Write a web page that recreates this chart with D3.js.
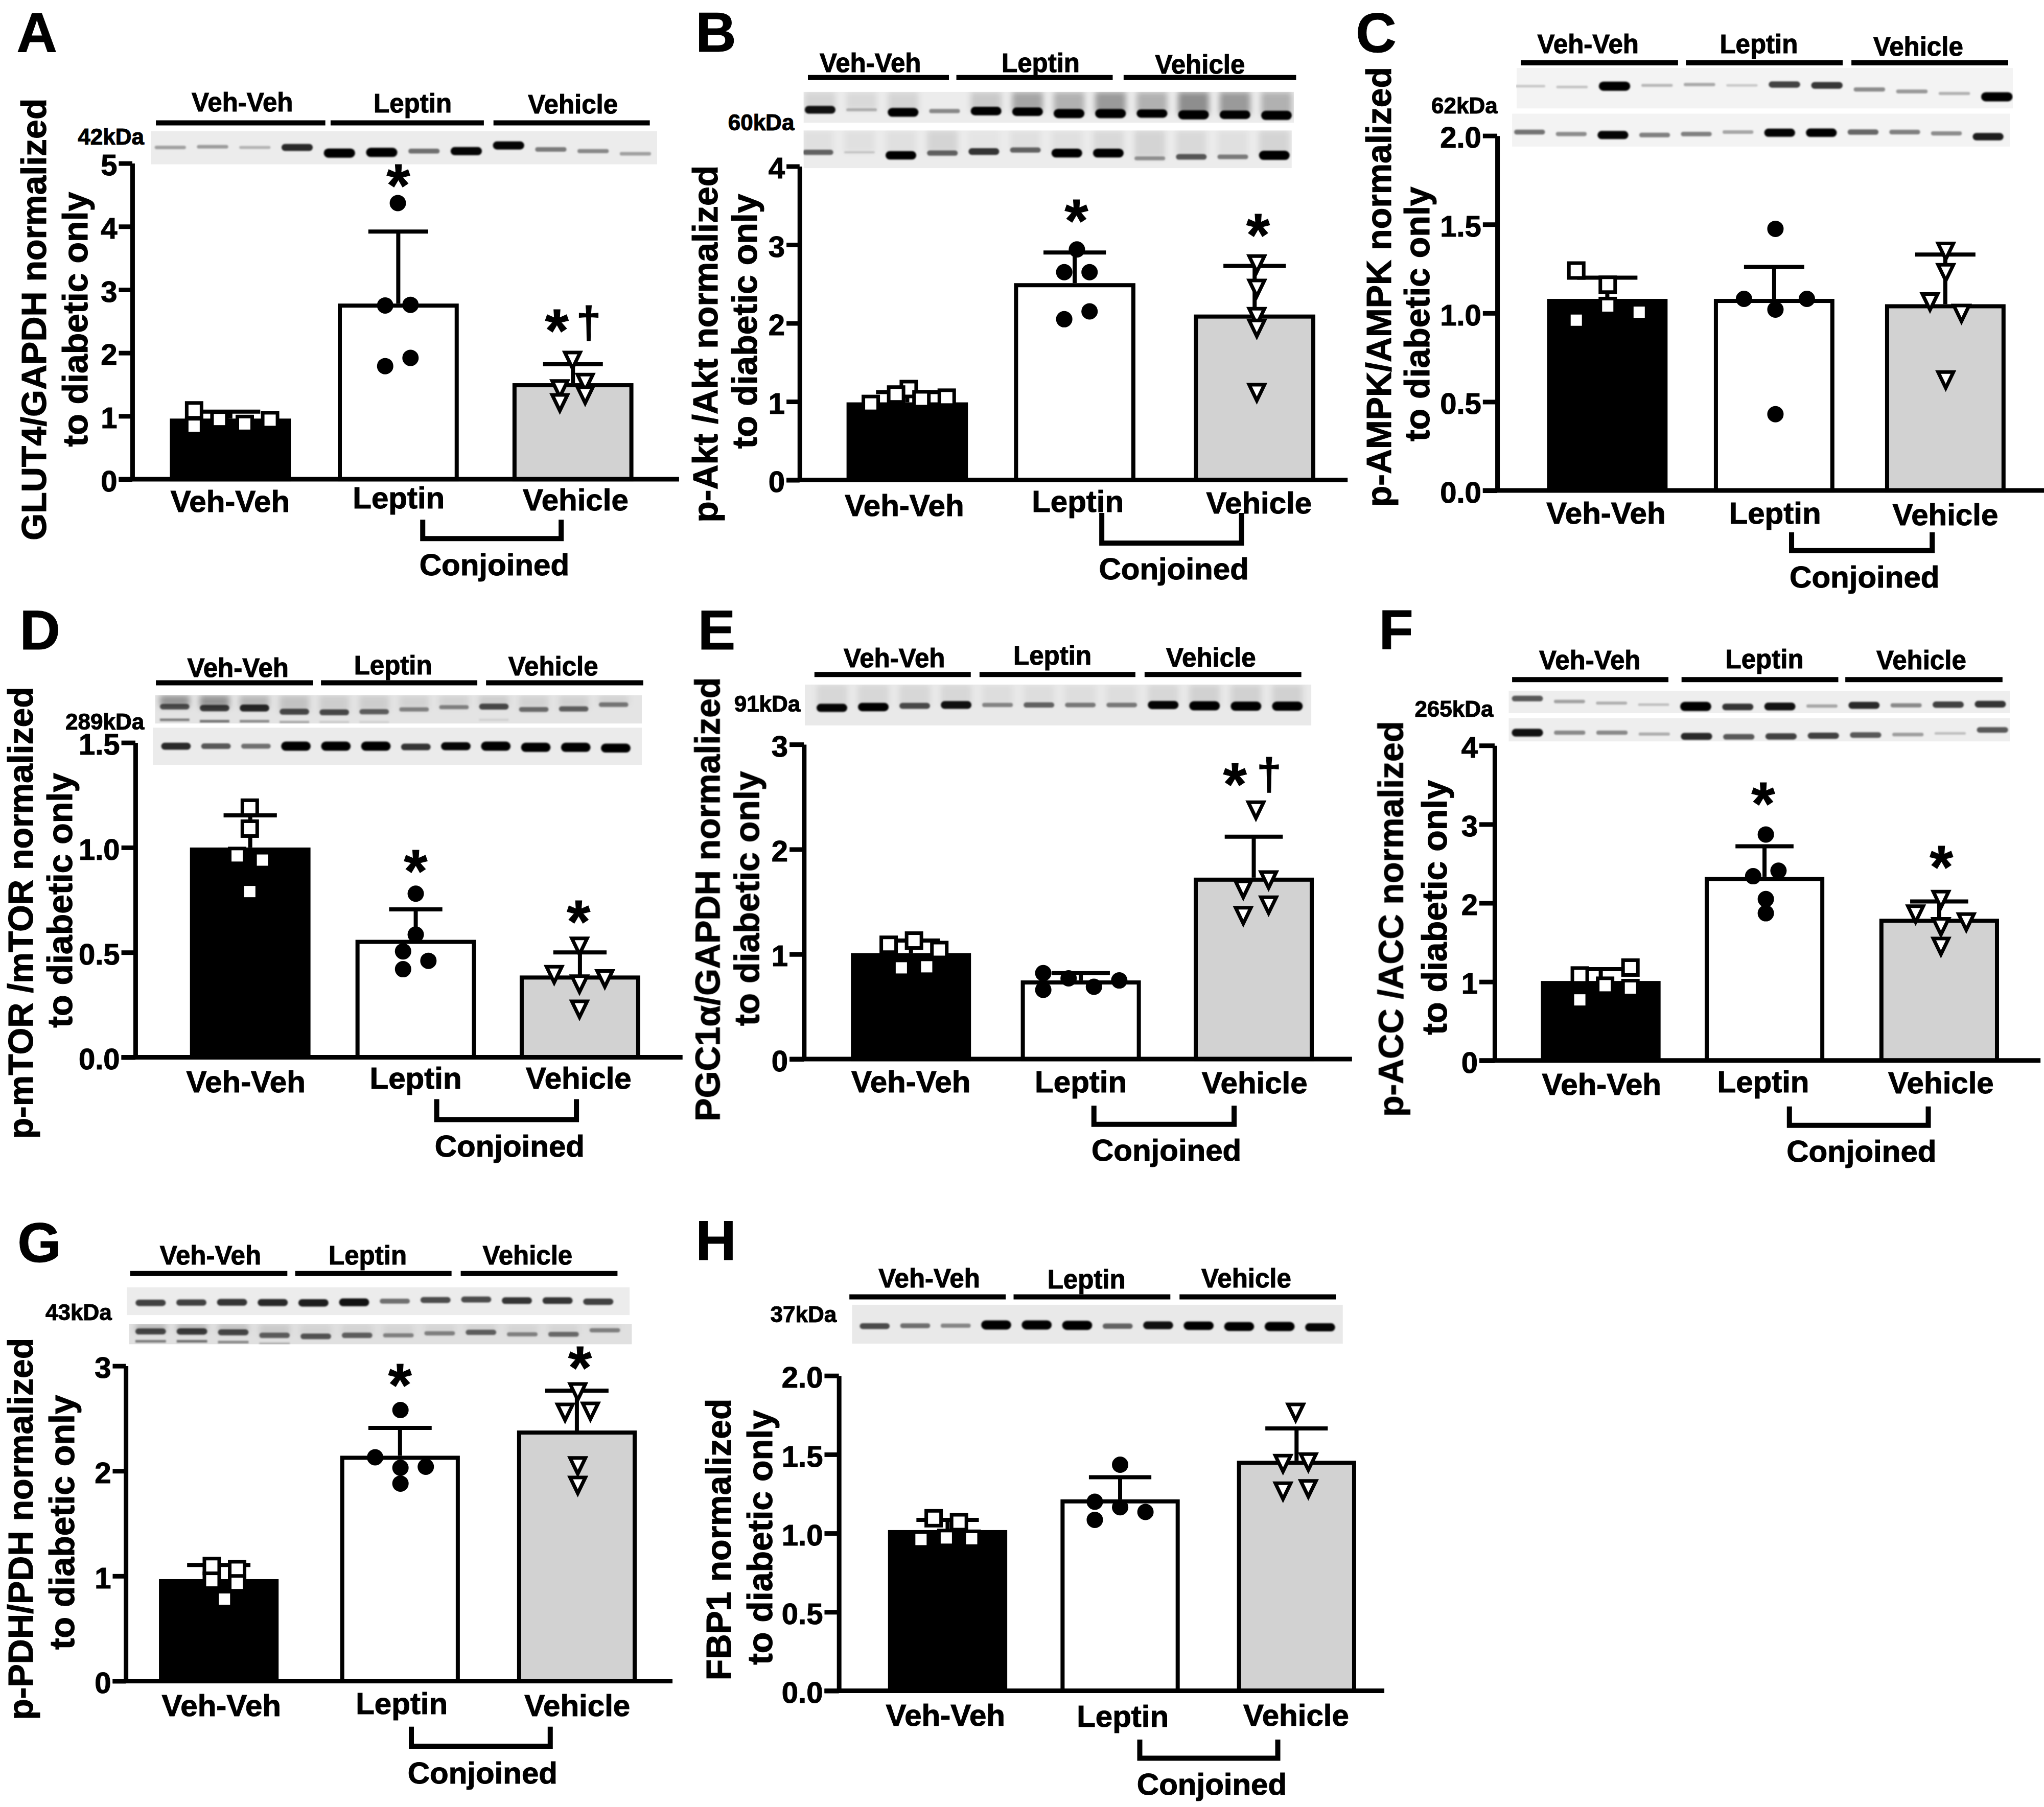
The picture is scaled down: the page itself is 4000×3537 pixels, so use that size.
<!DOCTYPE html>
<html><head><meta charset="utf-8">
<script src="https://cdn.jsdelivr.net/npm/d3@7/dist/d3.min.js"></script>
<style>html,body{margin:0;padding:0;background:#fff}svg{display:block}text{font-family:"Liberation Sans",Arial,sans-serif;font-weight:bold;fill:#000;stroke:#000;stroke-width:1.1px}</style>
</head><body><svg id="fig" width="4000" height="3537"></svg>
<script>
// ---------- shared labels ----------
const categories = ["Veh-Veh", "Leptin", "Vehicle"];
const barFills = ["#000000", "#ffffff", "#d2d2d2"];
const bracketLabel = "Conjoined";

// ---------- panel A ----------
const titleA = ["GLUT4/GAPDH normalized", "to diabetic only"];
const ticksA = [0, 1, 2, 3, 4, 5]; const tickTextA = ["0", "1", "2", "3", "4", "5"];
const meansA = [0.96, 2.78, 1.52];
const errTopA = [1.07, 3.92, 1.82];
const pointsA = [[1.09, 0.84, 0.945, 0.875, 0.935], [4.37, 2.75, 2.76, 1.92, 1.79], [1.90, 1.55, 1.45, 1.35, 1.23]];
const slotsA = [[-3, -3, -1, 1, 3], [0, -1, 1, 1, -1], [0, 1, -1, 1, -1]];
const marksA = [[], ["*"], ["*", "†"]];
const kdaA = "42kDa";
const lanesA = [[0.2, 0.22, 0.12, 0.7, 1, 1, 0.4, 0.85, 0.85, 0.35, 0.3, 0.2]];
const bandPosA = [[0.49, 0.47, 0.49, 0.49, 0.66, 0.64, 0.6, 0.6, 0.43, 0.55, 0.6, 0.68]];
const hazeA = [null];

// ---------- panel B ----------
const titleB = ["p-Akt /Akt normalized", "to diabetic only"];
const ticksB = [0, 1, 2, 3, 4]; const tickTextB = ["0", "1", "2", "3", "4"];
const meansB = [0.99, 2.51, 2.11];
const errTopB = [1.12, 2.90, 2.73];
const pointsB = [[1.16, 0.97, 1.09, 1.03, 1.05], [2.94, 2.65, 2.65, 2.15, 2.05], [2.77, 2.46, 2.10, 1.95, 1.13]];
const slotsB = [[0, -3, -1, 1, 3], [0, -1, 1, 1, -1], [0, 0, 0, 0, 0]];
const marksB = [[], ["*"], ["*"]];
const kdaB = "60kDa";
const lanesB = [[0.8, 0.12, 0.95, 0.3, 0.9, 0.9, 1, 1, 0.9, 1, 0.9, 1], [0.45, 0.03, 0.9, 0.45, 0.65, 0.45, 0.95, 0.95, 0.25, 0.5, 0.35, 1]];
const bandPosB = [[0.58, 0.58, 0.66, 0.62, 0.62, 0.64, 0.7, 0.7, 0.7, 0.74, 0.74, 0.76], [0.58, 0.58, 0.66, 0.6, 0.56, 0.52, 0.6, 0.6, 0.74, 0.7, 0.7, 0.66]];
const hazeB = [[0.1, 0.08, 0.1, 0, 0.15, 0.3, 0.25, 0.35, 0.25, 0.4, 0.35, 0.25], [0.05, 0.05, 0.05, 0.1, 0.03, 0.05, 0.05, 0.08, 0.1, 0.08, 0.05, 0.1]];

// ---------- panel C ----------
const titleC = ["p-AMPK/AMPK normalized", "to diabetic only"];
const ticksC = [0, 0.5, 1, 1.5, 2]; const tickTextC = ["0.0", "0.5", "1.0", "1.5", "2.0"];
const meansC = [1.08, 1.08, 1.05];
const errTopC = [1.20, 1.26, 1.33];
const pointsC = [[1.24, 1.16, 1.04, 1.005, 0.96], [1.475, 1.08, 1.08, 1.02, 0.43], [1.355, 1.235, 1.07, 1.005, 0.63]];
const slotsC = [[-2, 0, 0, 2, -2], [0, -2, 2, 0, 0], [0, 0, -1, 1, 0]];
const marksC = [[], [], []];
const kdaC = "62kDa";
const lanesC = [[0.06, 0.08, 1, 0.12, 0.18, 0.06, 0.6, 0.65, 0.3, 0.25, 0.15, 1], [0.4, 0.3, 0.85, 0.35, 0.35, 0.2, 0.85, 0.9, 0.45, 0.35, 0.3, 0.75]];
const bandPosC = [[0.45, 0.47, 0.45, 0.43, 0.41, 0.43, 0.41, 0.43, 0.53, 0.58, 0.63, 0.71], [0.56, 0.62, 0.65, 0.65, 0.62, 0.56, 0.58, 0.58, 0.56, 0.56, 0.6, 0.7]];
const hazeC = [null, null];

// ---------- panel D ----------
const titleD = ["p-mTOR /mTOR normalized", "to diabetic only"];
const ticksD = [0, 0.5, 1, 1.5]; const tickTextD = ["0.0", "0.5", "1.0", "1.5"];
const meansD = [1.0, 0.56, 0.39];
const errTopD = [1.153, 0.705, 0.50];
const pointsD = [[1.19, 1.09, 0.96, 0.94, 0.79], [0.78, 0.585, 0.505, 0.46, 0.42], [0.535, 0.40, 0.38, 0.355, 0.235]];
const slotsD = [[0, 0, -1, 1, 0], [0, 0, -1, 1, -1], [0, -2, 2, 0, 0]];
const marksD = [[], ["*"], ["*"]];
const kdaD = "289kDa";
const lanesD = [[0.5, 0.6, 0.7, 0.55, 0.55, 0.45, 0.3, 0.3, 0.55, 0.4, 0.45, 0.35], [0.7, 0.5, 0.4, 1, 1, 1, 0.65, 0.85, 1, 1, 1, 0.95]];
const bandPosD = [[0.4, 0.45, 0.45, 0.58, 0.6, 0.58, 0.5, 0.42, 0.4, 0.5, 0.48, 0.33], [0.5, 0.5, 0.5, 0.5, 0.5, 0.5, 0.52, 0.5, 0.5, 0.53, 0.53, 0.55]];
const hazeD = [[0.35, 0.35, 0.2, 0.15, 0.1, 0.1, 0.08, 0.08, 0.1, 0.08, 0.08, 0.08], null];
const secondD = [[0.45, 0.5, 0.4, 0.25, 0.1, 0.08, 0, 0, 0.08, 0, 0, 0], null];

// ---------- panel E ----------
const titleE = ["PGC1α/GAPDH normalized", "to diabetic only"];
const ticksE = [0, 1, 2, 3]; const tickTextE = ["0", "1", "2", "3"];
const meansE = [1.01, 0.75, 1.73];
const errTopE = [1.13, 0.82, 2.12];
const pointsE = [[1.13, 1.09, 1.04, 0.87, 0.88], [0.82, 0.77, 0.75, 0.69, 0.66], [2.385, 1.72, 1.63, 1.48, 1.38]];
const slotsE = [[0, -2, 2, -1, 1], [-3, -1, 3, 1, -3], [0, 1, -1, 1, -1]];
const marksE = [[], [], ["*", "†"]];
const kdaE = "91kDa";
const lanesE = [[0.85, 0.9, 0.55, 0.8, 0.3, 0.45, 0.35, 0.35, 0.85, 1, 1, 1]];
const bandPosE = [[0.57, 0.55, 0.52, 0.5, 0.5, 0.5, 0.5, 0.5, 0.5, 0.52, 0.53, 0.53]];
const hazeE = [[0.08, 0.08, 0.08, 0.08, 0.05, 0.05, 0.05, 0.05, 0.08, 0.1, 0.1, 0.1]];

// ---------- panel F ----------
const titleF = ["p-ACC /ACC normalized", "to diabetic only"];
const ticksF = [0, 1, 2, 3, 4]; const tickTextF = ["0", "1", "2", "3", "4"];
const meansF = [1.01, 2.33, 1.80];
const errTopF = [1.16, 2.72, 2.02];
const pointsF = [[1.18, 1.08, 0.95, 0.92, 0.77], [2.87, 2.41, 2.34, 2.05, 1.87], [2.06, 1.875, 1.775, 1.715, 1.465]];
const slotsF = [[2, -2, 0, 2, -2], [0, 1, -1, 0, 0], [0, -2, 2, 0, 0]];
const marksF = [[], ["*"], ["*"]];
const kdaF = "265kDa";
const lanesF = [[0.5, 0.2, 0.14, 0.08, 1, 0.65, 0.8, 0.18, 0.7, 0.3, 0.6, 0.65], [0.8, 0.3, 0.3, 0.15, 0.7, 0.5, 0.6, 0.6, 0.5, 0.22, 0.08, 0.5]];
const bandPosF = [[0.35, 0.48, 0.55, 0.62, 0.7, 0.72, 0.7, 0.68, 0.65, 0.65, 0.62, 0.6], [0.62, 0.62, 0.62, 0.68, 0.78, 0.8, 0.78, 0.75, 0.72, 0.7, 0.65, 0.5]];
const hazeF = [null, null];

// ---------- panel G ----------
const titleG = ["p-PDH/PDH normalized", "to diabetic only"];
const ticksG = [0, 1, 2, 3]; const tickTextG = ["0", "1", "2", "3"];
const meansG = [0.97, 2.145, 2.385];
const errTopG = [1.105, 2.41, 2.765];
const pointsG = [[1.095, 1.065, 0.955, 0.93, 0.78], [2.58, 2.13, 2.04, 2.03, 1.88], [2.765, 2.57, 2.58, 2.06, 1.875]];
const slotsG = [[-1, 1, -1, 1, 0], [0, -2, 2, 0, 0], [0, -1, 1, 0, 0]];
const marksG = [[], ["*"], ["*"]];
const kdaG = "43kDa";
const lanesG = [[0.6, 0.6, 0.65, 0.7, 0.75, 0.8, 0.4, 0.55, 0.55, 0.65, 0.65, 0.6], [0.55, 0.6, 0.55, 0.45, 0.5, 0.45, 0.3, 0.3, 0.45, 0.3, 0.4, 0.3]];
const bandPosG = [[0.56, 0.55, 0.54, 0.55, 0.56, 0.54, 0.5, 0.46, 0.44, 0.48, 0.48, 0.52], [0.36, 0.36, 0.4, 0.55, 0.6, 0.55, 0.55, 0.45, 0.4, 0.5, 0.5, 0.3]];
const hazeG = [null, [0.2, 0.2, 0.15, 0.1, 0.06, 0.06, 0.05, 0.05, 0.06, 0.05, 0.05, 0.05]];
const secondG = [null, [0.45, 0.5, 0.4, 0.2, 0, 0, 0, 0, 0, 0, 0, 0]];

// ---------- panel H ----------
const titleH = ["FBP1 normalized", "to diabetic only"];
const ticksH = [0, 0.5, 1, 1.5, 2]; const tickTextH = ["0.0", "0.5", "1.0", "1.5", "2.0"];
const meansH = [1.02, 1.215, 1.46];
const errTopH = [1.085, 1.355, 1.665];
const pointsH = [[1.095, 1.07, 0.96, 0.97, 0.965], [1.435, 1.20, 1.165, 1.135, 1.085], [1.775, 1.45, 1.46, 1.275, 1.29]];
const slotsH = [[-1, 1, -2, 0, 2], [0, -2, 0, 2, -2], [0, -1, 1, -1, 1]];
const marksH = [[], [], []];
const kdaH = "37kDa";
const lanesH = [[0.55, 0.4, 0.3, 1, 1, 1, 0.45, 0.8, 0.9, 0.95, 1, 0.85]];
const bandPosH = [[0.55, 0.54, 0.54, 0.52, 0.52, 0.53, 0.55, 0.53, 0.54, 0.56, 0.56, 0.58]];
const hazeH = [null];

// ---------- layout (measured in the local crop frame, converted by X/Y below) ----------
const layouts = [
 {id:"A", crop:[0,0,1160], letter:[38,137], ax:303, y0:1268, yTop:432, xEnd:1555, tickL:272, centers:[527.5,912,1312], swarm:[531.5,911,1311], step:29, bw:277, cap:137,
  cat:[[527,1355],[913,1345],[1318,1350]], br:[968,1285,1375,1425], conj:[1132,1522], t1:[105,845], t2:[200,845],
  blotCats:[[555,295],[945,297],[1312,300]], blotBars:[[357,745],[757,1108],[1130,1488]], barY:325, kda:[254,382],
  strips:[[345,1505,347,435,390,1455,"#ececec"]], marks:[[], [[912,466]], [[1275,850],[1348,862]]],
  d:{title:titleA,ticks:ticksA,tt:tickTextA,m:meansA,e:errTopA,p:pointsA,s:slotsA,mk:marksA,k:kdaA,l:lanesA,b:bandPosA,h:hazeA}},
 {id:"B", crop:[1340,0,1160], letter:[25,136], ax:263, y0:1270, yTop:440, xEnd:1518, tickL:233, centers:[509.5,893,1305], swarm:[513,898,1310], step:29, bw:278, cap:143,
  cat:[[503,1365],[900,1355],[1315,1358]], br:[955,1275,1357,1437], conj:[1120,1533], t1:[75,910], t2:[165,850],
  blotCats:[[425,190],[815,190],[1180,195]], blotBars:[[282,605],[622,980],[1005,1400]], barY:205, kda:[175,345],
  strips:[[272,1395,243,325,310,1355,"#ececec"],[272,1390,345,445,305,1350,"#ececec"]], marks:[[], [[897,560]], [[1313,598]]],
  d:{title:titleB,ticks:ticksB,tt:tickTextB,m:meansB,e:errTopB,p:pointsB,s:slotsB,mk:marksB,k:kdaB,l:lanesB,b:bandPosB,h:hazeB}},
 {id:"C", crop:[2660,0,1190], letter:[-8,134], ax:316, y0:1265, yTop:350, xEnd:1600, tickL:283, centers:[568,950,1342], swarm:[569,953,1343], step:36, bw:276, cap:138,
  cat:[[565,1350],[952,1350],[1342,1355]], br:[990,1312,1373,1420], conj:[1157,1515], t1:[72,740], t2:[160,810],
  blotCats:[[524,137],[915,137],[1280,143]], blotBars:[[370,730],[748,1107],[1127,1486]], barY:162, kda:[241,293],
  strips:[[360,1497,175,280,390,1460,"#f3f3f3"],[350,1490,293,378,390,1440,"#f3f3f3"]], marks:[[],[],[]],
  d:{title:titleC,ticks:ticksC,tt:tickTextC,m:meansC,e:errTopC,p:pointsC,s:slotsC,mk:marksC,k:kdaC,l:lanesC,b:bandPosC,h:hazeC}},
 {id:"D", crop:[0,1180,1100], letter:[45,130], ax:310, y0:1268, yTop:390, xEnd:1563, tickL:278, centers:[573,952,1328], swarm:[572,952,1327], step:29, bw:276, cap:122,
  cat:[[563,1365],[952,1355],[1325,1355]], br:[1000,1320,1385,1442], conj:[1167,1545], t1:[75,865], t2:[165,830],
  blotCats:[[545,207],[900,200],[1267,203]], blotBars:[[357,717],[735,1093],[1113,1473]], barY:223, kda:[240,353],
  strips:[[355,1470,258,337,400,1405,"#e4e4e4"],[350,1470,348,452,403,1410,"#ebebeb"]], marks:[[], [[952,722]], [[1325,864]]],
  d:{title:titleD,ticks:ticksD,tt:tickTextD,m:meansD,e:errTopD,p:pointsD,s:slotsD,mk:marksD,k:kdaD,l:lanesD,b:bandPosD,h:hazeD,sec:secondD}},
 {id:"E", crop:[1340,1180,1100], letter:[30,130], ax:273, y0:1273, yTop:395, xEnd:1528, tickL:240, centers:[518,907,1303], swarm:[525,908,1308], step:29, bw:275, cap:133,
  cat:[[518,1365],[907,1365],[1305,1368]], br:[937,1258,1403,1455], conj:[1103,1557], t1:[80,827], t2:[170,825],
  blotCats:[[480,180],[842,173],[1205,178]], blotBars:[[297,655],[675,1032],[1053,1412]], barY:200, kda:[189,303],
  strips:[[275,1435,228,342,337,1380,"#e9e9e9"]], marks:[[], [], [[1260,480],[1338,488]]],
  d:{title:titleE,ticks:ticksE,tt:tickTextE,m:meansE,e:errTopE,p:pointsE,s:slotsE,mk:marksE,k:kdaE,l:lanesE,b:bandPosE,h:hazeE}},
 {id:"F", crop:[2660,1180,1100], letter:[45,130], ax:310, y0:1277, yTop:398, xEnd:1560, tickL:275, centers:[553,928,1328], swarm:[563,931,1332], step:29, bw:274, cap:133,
  cat:[[555,1372],[925,1365],[1332,1368]], br:[985,1303,1405,1458], conj:[1150,1560], t1:[100,882], t2:[200,850],
  blotCats:[[528,185],[928,183],[1287,185]], blotBars:[[350,708],[738,1097],[1113,1473]], barY:214, kda:[217,318],
  strips:[[342,1490,245,308,385,1445,"#eeeeee"],[342,1490,322,387,385,1450,"#eeeeee"]], marks:[[], [[925,534]], [[1333,711]]],
  d:{title:titleF,ticks:ticksF,tt:tickTextF,m:meansF,e:errTopF,p:pointsF,s:slotsF,mk:marksF,k:kdaF,l:lanesF,b:bandPosF,h:hazeF}},
 {id:"G", crop:[0,2340,1197], letter:[40,170], ax:288, y0:1245, yTop:437, xEnd:1540, tickL:258, centers:[501,916,1321], swarm:[514,917,1323], step:29, bw:274, cap:145,
  cat:[[507,1335],[920,1330],[1322,1335]], br:[942,1260,1362,1412], conj:[1105,1508], t1:[75,855], t2:[170,838],
  blotCats:[[482,177],[842,177],[1208,177]], blotBars:[[298,658],[676,1034],[1055,1414]], barY:200, kda:[180,320],
  strips:[[290,1442,235,307,345,1370,"#ececec"],[296,1447,330,382,345,1385,"#e0e0e0"]], marks:[[], [[916,462]], [[1328,418]]],
  d:{title:titleG,ticks:ticksG,tt:tickTextG,m:meansG,e:errTopG,p:pointsG,s:slotsG,mk:marksG,k:kdaG,l:lanesG,b:bandPosG,h:hazeG,sec:secondG}},
 {id:"H", crop:[1340,2340,1197], letter:[25,165], ax:353, y0:1270, yTop:462, xEnd:1602, tickL:320, centers:[602,997,1401], swarm:[599,997,1399], step:29, bw:273, cap:143,
  cat:[[597,1360],[1003,1362],[1400,1360]], br:[1042,1358,1395,1443], conj:[1207,1537], t1:[105,882], t2:[200,877],
  blotCats:[[560,236],[920,238],[1286,236]], blotBars:[[377,735],[753,1112],[1133,1491]], barY:260, kda:[272,325],
  strips:[[383,1507,280,380,435,1455,"#e9e9e9"]], marks:[[],[],[]],
  d:{title:titleH,ticks:ticksH,tt:tickTextH,m:meansH,e:errTopH,p:pointsH,s:slotsH,mk:marksH,k:kdaH,l:lanesH,b:bandPosH,h:hazeH}}
];

const style = {axis:9, bracket:10, bar:8, err:8, mark:7, r:16, sq:29, tri:[30,31], tick:58, cat:60, title:68, letter:110, blot:51, kda:44, conj:60, star:118, dag:88};
const svg = d3.select("#fig");
svg.append("rect").attr("width",4000).attr("height",3537).attr("fill","#fff");
const defs = svg.append("defs");
defs.append("filter").attr("id","soft").attr("x","-20%").attr("y","-60%").attr("width","140%").attr("height","220%")
  .append("feGaussianBlur").attr("stdDeviation","1.8");
defs.append("filter").attr("id","haze").attr("x","-30%").attr("y","-30%").attr("width","160%").attr("height","160%")
  .append("feGaussianBlur").attr("stdDeviation","6");

layouts.forEach(L => {
  const [ox, oy, h] = L.crop;
  const X = z => ox + z * 1340 / 1568;
  const Y = z => oy + z * h / 1568;
  const D = L.d;
  const g = svg.append("g").attr("class", "panel-" + L.id);

  const y = d3.scaleLinear().domain([D.ticks[0], D.ticks[D.ticks.length - 1]]).range([Y(L.y0), Y(L.yTop)]);
  const xC = d3.scaleOrdinal().domain(categories).range(L.centers.map(X));
  const xS = d3.scaleOrdinal().domain(categories).range(L.swarm.map(X));
  const barW = L.bw * 1340 / 1568;
  const capW = L.cap * 1340 / 1568;
  const stepPx = L.step * 1340 / 1568;

  // letter
  g.append("text").attr("x", X(L.letter[0])).attr("y", Y(L.letter[1])).attr("font-size", style.letter).text(L.id);

  // y titles
  D.title.forEach((t, i) => {
    const p = i === 0 ? L.t1 : L.t2;
    g.append("text").attr("transform", `translate(${X(p[0])},${Y(p[1])}) rotate(-90)`)
      .attr("text-anchor", "middle").attr("font-size", style.title).text(t);
  });

  // bars (values are read at the outer edge of the bar outline)
  g.selectAll("rect.bar").data(categories).enter().append("rect").attr("class", "bar")
    .attr("x", c => xC(c) - (barW - style.bar) / 2).attr("width", barW - style.bar)
    .attr("y", (c, i) => y(D.m[i]) + style.bar / 2)
    .attr("height", (c, i) => y(0) - y(D.m[i]) - style.bar / 2)
    .attr("fill", (c, i) => barFills[i]).attr("stroke", "#000").attr("stroke-width", style.bar);

  // error bars
  const eb = g.selectAll("g.err").data(categories).enter().append("g").attr("class", "err")
    .attr("stroke", "#000").attr("stroke-width", style.err);
  eb.append("line").attr("x1", c => xC(c)).attr("x2", c => xC(c)).attr("y1", (c, i) => y(D.m[i])).attr("y2", (c, i) => y(D.e[i]));
  eb.append("line").attr("x1", c => xC(c) - capW / 2).attr("x2", c => xC(c) + capW / 2).attr("y1", (c, i) => y(D.e[i])).attr("y2", (c, i) => y(D.e[i]));

  // points
  categories.forEach((c, gi) => {
    const pts = D.p[gi].map((v, i) => ({v, s: D.s[gi][i]}));
    const px = d => xS(c) + d.s * stepPx;
    const sel = g.selectAll("x").data(pts).enter();
    if (gi === 0) {
      sel.append("rect").attr("x", d => px(d) - style.sq / 2).attr("y", d => y(d.v) - style.sq / 2)
        .attr("width", style.sq).attr("height", style.sq).attr("fill", "#fff").attr("stroke", "#000").attr("stroke-width", style.mark);
    } else if (gi === 1) {
      sel.append("circle").attr("cx", px).attr("cy", d => y(d.v)).attr("r", style.r).attr("fill", "#000");
    } else {
      const [w, t] = style.tri;
      sel.append("path").attr("d", d => {
        const cx = px(d), cy = y(d.v);
        return d3.line()([[cx - w / 2, cy - t * 0.42], [cx + w / 2, cy - t * 0.42], [cx, cy + t * 0.58]]) + "Z";
      }).attr("fill", "#fff").attr("stroke", "#000").attr("stroke-width", style.mark).attr("stroke-linejoin", "miter");
    }
  });

  // axes
  const yAxis = d3.axisLeft(y).tickValues(D.ticks).tickFormat((d, i) => D.tt[i])
    .tickSizeInner(X(L.ax) - X(L.tickL)).tickSizeOuter(0).tickPadding(3);
  const ya = g.append("g").attr("transform", `translate(${X(L.ax)},0)`).call(yAxis);
  ya.selectAll("path,line").attr("stroke", "#000").attr("stroke-width", style.axis);
  ya.selectAll("text").attr("font-size", style.tick).attr("dy", "0.4em");
  ya.attr("font-family", null).attr("font-size", null);
  g.append("line").attr("x1", X(L.tickL)).attr("x2", X(L.xEnd)).attr("y1", y(0)).attr("y2", y(0))
    .attr("stroke", "#000").attr("stroke-width", style.axis);

  // category labels
  categories.forEach((c, i) => g.append("text").attr("x", X(L.cat[i][0])).attr("y", Y(L.cat[i][1]))
    .attr("text-anchor", "middle").attr("font-size", style.cat).text(c));

  // bracket
  const [b0, b1, bt, bb] = L.br;
  g.append("path").attr("d", d3.line()([[X(b0), Y(bt)], [X(b0), Y(bb)], [X(b1), Y(bb)], [X(b1), Y(bt)]]))
    .attr("fill", "none").attr("stroke", "#000").attr("stroke-width", style.bracket);
  g.append("text").attr("x", X(L.conj[0])).attr("y", Y(L.conj[1])).attr("text-anchor", "middle")
    .attr("font-size", style.conj).text(bracketLabel);

  // blot strips
  L.strips.forEach((st, si) => {
    const [sx0, sx1, sy0, sy1, lx0, lx1, bg] = st;
    const strip = g.append("svg").attr("x", X(sx0)).attr("y", Y(sy0)).attr("width", X(sx1) - X(sx0)).attr("height", Y(sy1) - Y(sy0))
      .attr("viewBox", `${X(sx0)} ${Y(sy0)} ${X(sx1) - X(sx0)} ${Y(sy1) - Y(sy0)}`);
    strip.append("rect").attr("x", X(sx0)).attr("y", Y(sy0)).attr("width", X(sx1) - X(sx0)).attr("height", Y(sy1) - Y(sy0)).attr("fill", bg);
    const lanes = D.l[si];
    const lane = d3.scalePoint().domain(d3.range(lanes.length)).range([X(lx0), X(lx1)]);
    const pos = d3.scaleLinear().domain([0, 1]).range([Y(sy0), Y(sy1)]);
    const lw = (X(lx1) - X(lx0)) / (lanes.length - 1) * 0.74;
    if (D.h[si]) strip.append("g").attr("filter", "url(#haze)").selectAll("rect").data(D.h[si]).enter().append("rect")
      .attr("x", (v, i) => lane(i) - lw / 2).attr("width", lw)
      .attr("y", Y(sy0)).attr("height", (v, i) => pos(D.b[si][i]) - Y(sy0))
      .attr("fill", "#000").attr("opacity", v => v);
    if (D.sec && D.sec[si]) strip.append("g").attr("filter", "url(#soft)").selectAll("rect").data(D.sec[si]).enter().append("rect")
      .attr("x", (v, i) => lane(i) - lw / 2).attr("width", lw)
      .attr("y", (v, i) => pos(Math.min(0.9, D.b[si][i] + 0.42))).attr("height", 5)
      .attr("fill", "#000").attr("opacity", v => v);
    strip.append("g").attr("filter", "url(#soft)").selectAll("rect").data(lanes).enter().append("rect")
      .attr("x", (v, i) => lane(i) - lw / 2).attr("width", lw)
      .attr("y", (v, i) => pos(D.b[si][i]) - (2 + v * 7)).attr("height", v => 4 + v * 14)
      .attr("rx", v => (4 + v * 14) / 2).attr("fill", "#000").attr("opacity", v => 0.12 + 0.88 * Math.min(1, v * 1.15));
  });

  // blot headings
  categories.forEach((c, i) => {
    g.append("text").attr("x", X(L.blotCats[i][0])).attr("y", Y(L.blotCats[i][1])).attr("text-anchor", "middle").attr("font-size", style.blot).text(c);
    g.append("line").attr("x1", X(L.blotBars[i][0])).attr("x2", X(L.blotBars[i][1])).attr("y1", Y(L.barY)).attr("y2", Y(L.barY))
      .attr("stroke", "#000").attr("stroke-width", 10);
  });
  g.append("text").attr("x", X(L.kda[0])).attr("y", Y(L.kda[1])).attr("text-anchor", "middle").attr("font-size", style.kda).text(D.k);

  // significance marks
  D.mk.forEach((ms, gi) => ms.forEach((m, j) => {
    const p = L.marks[gi][j];
    const fs = m === "*" ? style.star : style.dag;
    const off = m === "*" ? 0.5 : 0.26;
    g.append("text").attr("x", X(p[0])).attr("y", Y(p[1]) + fs * off).attr("text-anchor", "middle").attr("font-size", fs).text(m);
  }));
});
</script></body></html>
